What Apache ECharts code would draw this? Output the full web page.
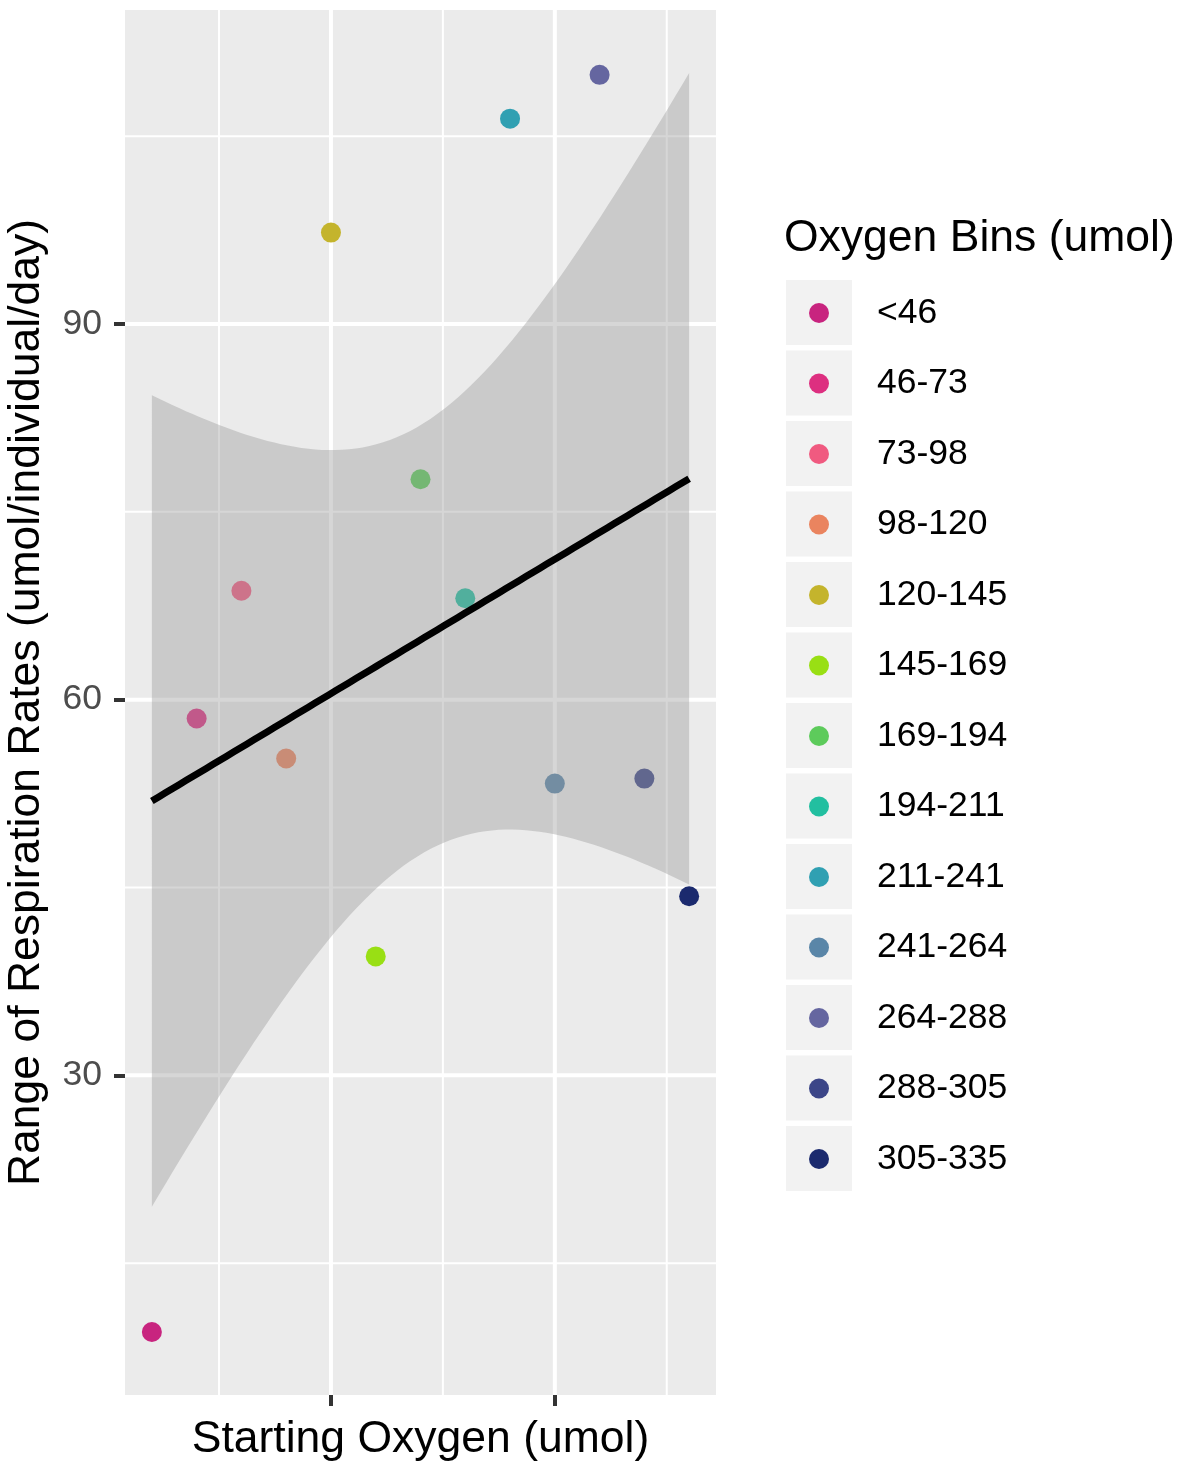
<!DOCTYPE html>
<html>
<head>
<meta charset="utf-8">
<title>Respiration range vs starting oxygen</title>
<script src="https://cdn.jsdelivr.net/npm/echarts@6/dist/echarts.min.js"></script>
<style>
  html, body { margin: 0; padding: 0; background: #ffffff; }
  #chart { width: 1188px; height: 1467px; }
</style>
</head>
<body>
<div id="chart"></div>
<script>
// Oxygen bins (umol), one point per bin
const binLabels = ['<46', '46-73', '73-98', '98-120', '120-145', '145-169', '169-194',
                   '194-211', '211-241', '241-264', '264-288', '288-305', '305-335'];
const binPosition = [1, 2, 3, 4, 5, 6, 7, 8, 9, 10, 11, 12, 13];
const respirationRange = [9.5, 58.5, 68.7, 55.3, 97.3, 39.5, 77.6, 68.1, 106.4, 53.3, 109.9, 53.7, 44.3];
const binColors = ['#c8247f', '#dd2f80', '#f05a80', '#ea845f', '#c4b42c', '#99df14', '#5dcb5b',
                   '#22bfa0', '#30a0b2', '#5a86a8', '#6566a0', '#3c4688', '#1b2a6e'];

// Axis breaks
const yLabelTicks = [30, 60, 90];
const yMinorBreaks = [15, 45, 75, 105];
const xMajorBreaks = [5, 10];
const xMinorBreaks = [2.5, 7.5, 12.5];

// Linear model fit with 95% confidence band (t quantile for 11 df)
const T_975_DF11 = 2.200985;
const n = binPosition.length;
const meanX = binPosition.reduce((a, b) => a + b, 0) / n;
const meanY = respirationRange.reduce((a, b) => a + b, 0) / n;
let sxx = 0, sxy = 0;
for (let i = 0; i < n; i++) {
  sxx += (binPosition[i] - meanX) ** 2;
  sxy += (binPosition[i] - meanX) * (respirationRange[i] - meanY);
}
const slope = sxy / sxx;
const intercept = meanY - slope * meanX;
let sse = 0;
for (let i = 0; i < n; i++) {
  sse += (respirationRange[i] - (intercept + slope * binPosition[i])) ** 2;
}
const sigma = Math.sqrt(sse / (n - 2));
const xLo = Math.min(...binPosition), xHi = Math.max(...binPosition);
const fitX = [], fitY = [], bandUpper = [], bandLower = [];
for (let k = 0; k < 80; k++) {
  const x = xLo + (xHi - xLo) * k / 79;
  const y = intercept + slope * x;
  const half = T_975_DF11 * sigma * Math.sqrt(1 / n + (x - meanX) ** 2 / sxx);
  fitX.push(x); fitY.push(y); bandUpper.push(y + half); bandLower.push(y - half);
}

// Axis ranges with 5% padding on each side
const yDataMin = Math.min(...respirationRange, ...bandLower);
const yDataMax = Math.max(...respirationRange, ...bandUpper);
const yPad = (yDataMax - yDataMin) * 0.05;
const xPad = (xHi - xLo) * 0.05;
const xMin = xLo - xPad, xMax = xHi + xPad;
const yMin = yDataMin - yPad, yMax = yDataMax + yPad;

const gridLines = [
  ...yLabelTicks.map(v => ({ v, vertical: false, major: true })),
  ...yMinorBreaks.map(v => ({ v, vertical: false, major: false })),
  ...xMajorBreaks.map(v => ({ v, vertical: true, major: true })),
  ...xMinorBreaks.map(v => ({ v, vertical: true, major: false }))
];

const FONT = '"Liberation Sans", Arial, Helvetica, sans-serif';

const pointSeries = binLabels.map((label, i) => ({
  name: label,
  type: 'scatter',
  data: [[binPosition[i], respirationRange[i]]],
  symbol: 'circle',
  symbolSize: 20,
  itemStyle: { color: binColors[i], opacity: 1 },
  z: 3,
  silent: true
}));

// Legend key backgrounds
const ROW_PITCH = 70.5;
const legendTop = 313 - 20;
const keyBoxes = binLabels.map((_, i) => ({
  type: 'rect',
  left: 786,
  top: 280 + i * ROW_PITCH,
  shape: { width: 66, height: 65 },
  style: { fill: '#f2f2f2' },
  z: 0,
  silent: true
}));

const chart = echarts.init(document.getElementById('chart'), null, { renderer: 'canvas' });
chart.setOption({
  animation: false,
  backgroundColor: '#ffffff',
  textStyle: { fontFamily: FONT },
  grid: {
    left: 125, right: 472, top: 10, bottom: 70,
    show: true, backgroundColor: '#ebebeb', borderWidth: 0
  },
  xAxis: {
    type: 'value',
    min: xMin, max: xMax,
    name: 'Starting Oxygen (umol)',
    nameLocation: 'middle',
    nameGap: 22,
    nameTextStyle: { fontSize: 44.5, color: '#000000', fontFamily: FONT },
    axisLine: { show: false },
    axisTick: { show: true, length: 11, customValues: xMajorBreaks, lineStyle: { color: '#333333', width: 4 } },
    axisLabel: { show: false },
    splitLine: { show: false }
  },
  yAxis: {
    type: 'value',
    min: yMin, max: yMax,
    name: 'Range of Respiration Rates (umol/individual/day)',
    nameLocation: 'middle',
    nameGap: 76,
    nameTextStyle: { fontSize: 44.5, color: '#000000', fontFamily: FONT },
    axisLine: { show: false },
    axisTick: { show: true, length: 11, customValues: yLabelTicks, lineStyle: { color: '#333333', width: 4 } },
    axisLabel: { show: true, customValues: yLabelTicks, fontSize: 35.5, color: '#4d4d4d', margin: 23, fontFamily: FONT },
    splitLine: { show: false }
  },
  legend: {
    data: binLabels,
    orient: 'vertical',
    left: 809,
    top: legendTop,
    icon: 'circle',
    itemWidth: 20,
    itemHeight: 40,
    itemGap: ROW_PITCH - 40,
    padding: 0,
    selectedMode: false,
    z: 2,
    textStyle: { fontSize: 35.5, lineHeight: 40, color: '#000000', fontFamily: FONT, padding: [0, 0, 0, 43] }
  },
  graphic: [
    {
      type: 'text',
      left: 784,
      top: 216,
      style: { text: 'Oxygen Bins (umol)', font: '44.5px ' + FONT, fill: '#000000' },
      silent: true
    },
    ...keyBoxes
  ],
  series: [
    {
      name: 'grid',
      type: 'custom',
      data: gridLines.map((g) => [g.vertical ? g.v : xMin, g.vertical ? yMin : g.v]),
      silent: true,
      z: 1,
      renderItem: function (params, api) {
        const g = gridLines[params.dataIndex];
        const cs = params.coordSys;
        const w = g.major ? 4 : 2;
        if (g.vertical) {
          const x = api.coord([g.v, yMin])[0];
          return { type: 'line', shape: { x1: x, y1: cs.y, x2: x, y2: cs.y + cs.height },
                   style: { stroke: '#ffffff', lineWidth: w } };
        }
        const y = api.coord([xMin, g.v])[1];
        return { type: 'line', shape: { x1: cs.x, y1: y, x2: cs.x + cs.width, y2: y },
                 style: { stroke: '#ffffff', lineWidth: w } };
      }
    },
    ...pointSeries,
    {
      name: 'band',
      type: 'custom',
      data: [[fitX[0], fitY[0]]],
      silent: true,
      z: 4,
      renderItem: function (params, api) {
        const pts = [];
        for (let i = 0; i < fitX.length; i++) pts.push(api.coord([fitX[i], bandUpper[i]]));
        for (let i = fitX.length - 1; i >= 0; i--) pts.push(api.coord([fitX[i], bandLower[i]]));
        return { type: 'polygon', shape: { points: pts }, style: { fill: 'rgba(153,153,153,0.4)' } };
      }
    },
    {
      name: 'fit',
      type: 'line',
      data: fitX.map((x, i) => [x, fitY[i]]),
      showSymbol: false,
      silent: true,
      z: 5,
      lineStyle: { color: '#000000', width: 7 }
    }
  ]
});
</script>
</body>
</html>
